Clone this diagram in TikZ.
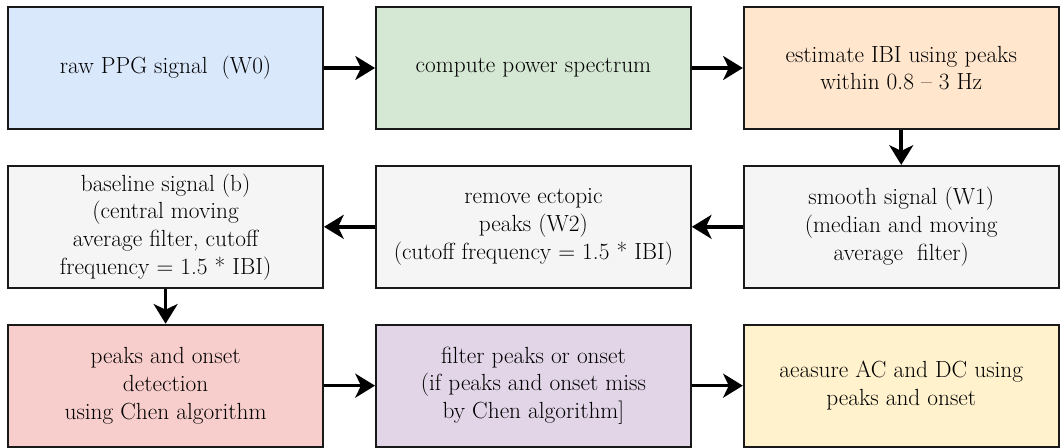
\documentclass[tikz,border=0pt]{standalone}
\usetikzlibrary{positioning,arrows.meta}

\definecolor{boxblue}{HTML}{DAE8FC}
\definecolor{boxgreen}{HTML}{D5E8D4}
\definecolor{boxorange}{HTML}{FFE6CC}
\definecolor{boxgray}{HTML}{F5F5F5}
\definecolor{boxred}{HTML}{F8CECC}
\definecolor{boxpurple}{HTML}{E1D5E7}
\definecolor{boxyellow}{HTML}{FFF2CC}

\tikzset{
  stage/.style={draw=black!90,line width=1.3pt,minimum width=7.875cm,minimum height=3.05cm,
    inner sep=0pt,align=center,font=\fontsize{16.6}{19.7}\selectfont},
  flow/.style={line width=2.6pt,-{Stealth[length=14pt,width=17pt,inset=4pt]}}
}

\begin{document}
\begin{tikzpicture}[node distance=0.875cm and 1.275cm]
\useasboundingbox (0,0) rectangle (26.575,-11.2);

\node[stage,fill=boxblue] (raw) at (4.14,-1.7) {raw PPG signal\ \ (W0)};
\node[stage,fill=boxgreen,right=of raw] (spec) {compute power spectrum};
\node[stage,fill=boxorange,right=of spec] (ibi) {estimate IBI using peaks\\within 0.8 -- 3 Hz};

\node[stage,fill=boxgray,below=of ibi] (smooth) {smooth signal (W1)\\(median and moving\\average\ \ filter)};
\node[stage,fill=boxgray,left=of smooth] (ectopic) {remove ectopic\\peaks (W2)\\(cutoff frequency = 1.5 * IBI)};
\node[stage,fill=boxgray,left=of ectopic] (base) {baseline signal (b)\\(central moving\\average filter, cutoff\\frequency = 1.5 * IBI)};

\node[stage,fill=boxred,below=of base] (chen) {peaks and onset\\detection\\using Chen algorithm};
\node[stage,fill=boxpurple,right=of chen] (filt) {filter peaks or onset\\(if peaks and onset miss\\by Chen algorithm]};
\node[stage,fill=boxyellow,right=of filt] (acdc) {aeasure AC and DC using\\peaks and onset};

\draw[flow] (raw) -- (spec);
\draw[flow] (spec) -- (ibi);
\draw[flow] (ibi) -- (smooth);
\draw[flow] (smooth) -- (ectopic);
\draw[flow] (ectopic) -- (base);
\draw[flow] (base) -- (chen);
\draw[flow] (chen) -- (filt);
\draw[flow] (filt) -- (acdc);
\end{tikzpicture}
\end{document}
